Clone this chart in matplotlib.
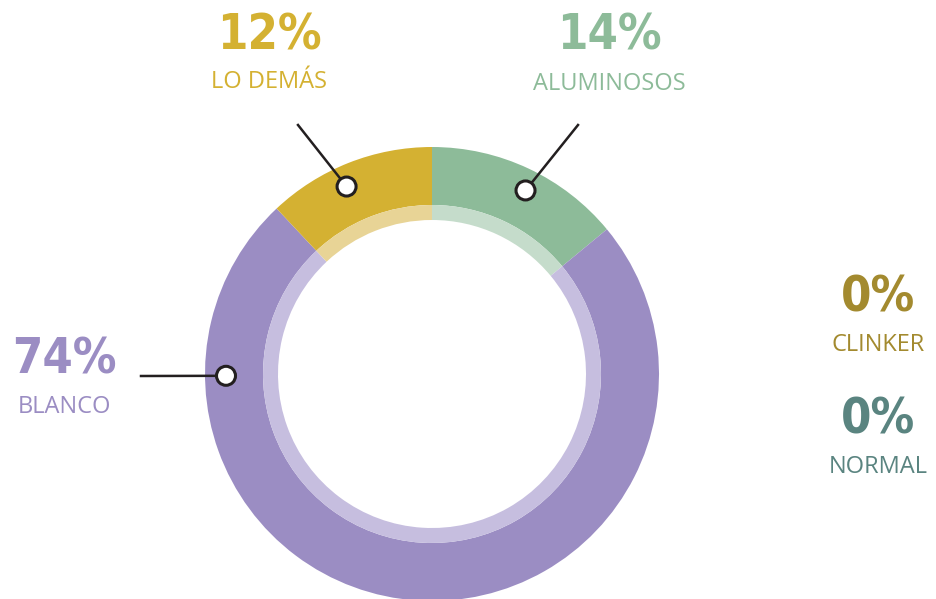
import numpy as np
import matplotlib
matplotlib.use("Agg")
import matplotlib.pyplot as plt
from matplotlib.patches import Circle

# datos
categorias = ["ALUMINOSOS", "BLANCO", "LO DEMÁS"]
valores = [14, 74, 12]
colores = ["#8DBB99", "#9B8DC3", "#D4B132"]
colores_claros = ["#C5DCCB", "#C6BEDF", "#E8D496"]

ceros = ["CLINKER", "NORMAL"]
ceros_valores = [0, 0]
ceros_colores = ["#A38A2F", "#5A8480"]

W, H = 936, 599
fig = plt.figure(figsize=(W / 100, H / 100), dpi=100)
ax = fig.add_axes([0, 0, 1, 1])

cx, cy = 432, H - 374
r_ext, r_med, r_int = 227, 169, 154

# anillo principal y anillo claro interior
wedges, _ = ax.pie(valores, colors=colores, startangle=90, counterclock=False,
                   radius=r_ext, center=(cx, cy), frame=True,
                   wedgeprops=dict(width=r_ext - r_med, linewidth=0))
ax.pie(valores, colors=colores_claros, startangle=90, counterclock=False,
       radius=r_med, center=(cx, cy), frame=True,
       wedgeprops=dict(width=r_med - r_int, linewidth=0))
ax.set_xlim(0, W)
ax.set_ylim(0, H)
ax.set_aspect("equal")
ax.axis("off")

fuente_num = "DejaVu Sans"
fuente_txt = ["Open Sans", "DejaVu Sans"]

# marcadores con linea
linea = "#231F20"
angulos_marca = [63, 180.5, 114.5]
extremos = [(578, 125), (141, 376), (298, 125)]
for ang, (ex, ey) in zip(angulos_marca, extremos):
    mx = cx + 206 * np.cos(np.radians(ang))
    my = cy + 206 * np.sin(np.radians(ang))
    ax.plot([mx, ex], [my, H - ey], color=linea, lw=1.8, zorder=3)
    ax.add_patch(Circle((mx, my), 9.5, facecolor="white", edgecolor=linea,
                        lw=2.2, zorder=4))


def numero(x, y, txt, col):
    ax.text(x, y, txt, color=col, fontsize=35, fontweight="bold",
            family=fuente_num, fontstretch="condensed", ha="center", va="center")


# etiquetas
posiciones = [(609, 35, 84), (64, 360, 407), (269, 35, 82)]
for cat, val, col, (px, py1, py2) in zip(categorias, valores, colores, posiciones):
    numero(px, H - py1, f"{val}%", col)
    ax.text(px, H - py2, cat, color=col, fontsize=17, family=fuente_txt,
            ha="center", va="center")

for cat, val, col, (py1, py2) in zip(ceros, ceros_valores, ceros_colores,
                                     [(298, 345), (420, 467)]):
    numero(878, H - py1, f"{val}%", col)
    ax.text(878, H - py2, cat, color=col, fontsize=17, family=fuente_txt,
            ha="center", va="center")

fig.savefig("out.png", dpi=100)
